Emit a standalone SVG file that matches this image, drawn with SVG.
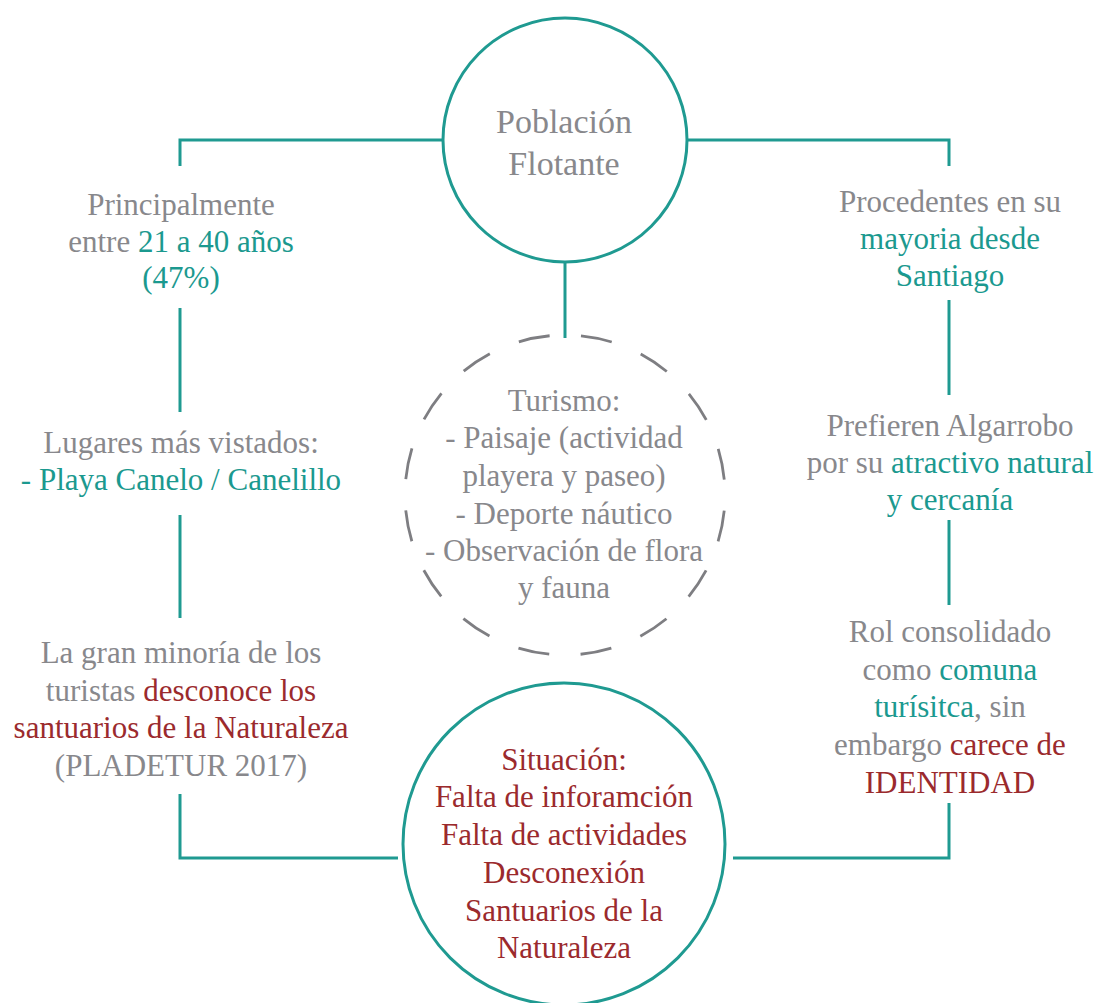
<svg xmlns="http://www.w3.org/2000/svg" width="1097" height="1003" viewBox="0 0 1097 1003">
<style>
text{font-family:'Liberation Serif','Times New Roman',Times,serif;font-size:31px;fill:#88888c;text-anchor:middle}
.t{fill:#1b998f}
.r{fill:#9b2a2d}
.big{font-size:34px}
.ln{fill:none;stroke:#1f9a91;stroke-width:3}
.circ{fill:#fff;stroke:#1f9a91;stroke-width:3}
.dash{fill:none;stroke:#7e7e82;stroke-width:2.8;stroke-dasharray:31.416 31.416;stroke-dashoffset:47.124}
</style>
<rect width="1097" height="1003" fill="#fff"/>
<g id="connectors">
<polyline class="ln" points="180,166 180,140 443,140"/>
<polyline class="ln" points="687,140 949,140 949,166"/>
<line class="ln" x1="565" y1="262" x2="565" y2="338"/>
<line class="ln" x1="180" y1="308" x2="180" y2="412"/>
<line class="ln" x1="180" y1="515" x2="180" y2="618"/>
<polyline class="ln" points="180,794 180,858 398,858"/>
<line class="ln" x1="949" y1="300" x2="949" y2="395"/>
<line class="ln" x1="949" y1="520" x2="949" y2="605"/>
<polyline class="ln" points="733,858 949,858 949,803"/>
</g>
<g id="poblacion">
<circle class="circ" cx="565" cy="140" r="122"/>
<text class="big" x="564" y="133">Población</text>
<text class="big" x="564" y="175">Flotante</text>
</g>
<g id="turismo">
<circle class="dash" cx="565" cy="495" r="160"/>
<text x="564" y="411">Turismo:</text>
<text x="564" y="448">- Paisaje (actividad</text>
<text x="564" y="486">playera y paseo)</text>
<text x="564" y="524">- Deporte náutico</text>
<text x="564" y="561">- Observación de flora</text>
<text x="564" y="598">y fauna</text>
</g>
<g id="situacion">
<circle class="circ" cx="564" cy="844" r="161"/>
<text class="r" x="564" y="770">Situación:</text>
<text class="r" x="564" y="807">Falta de inforamción</text>
<text class="r" x="564" y="845">Falta de actividades</text>
<text class="r" x="564" y="883">Desconexión</text>
<text class="r" x="564" y="921">Santuarios de la</text>
<text class="r" x="564" y="958">Naturaleza</text>
</g>
<g id="edad">
<text x="181" y="215">Principalmente</text>
<text x="181" y="252">entre <tspan class="t">21 a 40 años</tspan></text>
<text class="t" x="181" y="288">(47%)</text>
</g>
<g id="lugares">
<text x="181" y="453">Lugares más vistados:</text>
<text class="t" x="181" y="490">- Playa Canelo / Canelillo</text>
</g>
<g id="minoria">
<text x="181" y="663">La gran minoría de los</text>
<text x="181" y="701">turistas <tspan class="r">desconoce los</tspan></text>
<text class="r" x="181" y="738">santuarios de la Naturaleza</text>
<text x="181" y="776">(PLADETUR 2017)</text>
</g>
<g id="procedentes">
<text x="950" y="212">Procedentes en su</text>
<text class="t" x="950" y="249">mayoria desde</text>
<text class="t" x="950" y="286">Santiago</text>
</g>
<g id="prefieren">
<text x="950" y="436">Prefieren Algarrobo</text>
<text x="950" y="473">por su <tspan class="t">atractivo natural</tspan></text>
<text class="t" x="950" y="510">y cercanía</text>
</g>
<g id="rol">
<text x="950" y="642">Rol consolidado</text>
<text x="950" y="680">como <tspan class="t">comuna</tspan></text>
<text x="950" y="717"><tspan class="t">turísitca</tspan>, sin</text>
<text x="950" y="755">embargo <tspan class="r">carece de</tspan></text>
<text class="r" x="950" y="793">IDENTIDAD</text>
</g>
</svg>
